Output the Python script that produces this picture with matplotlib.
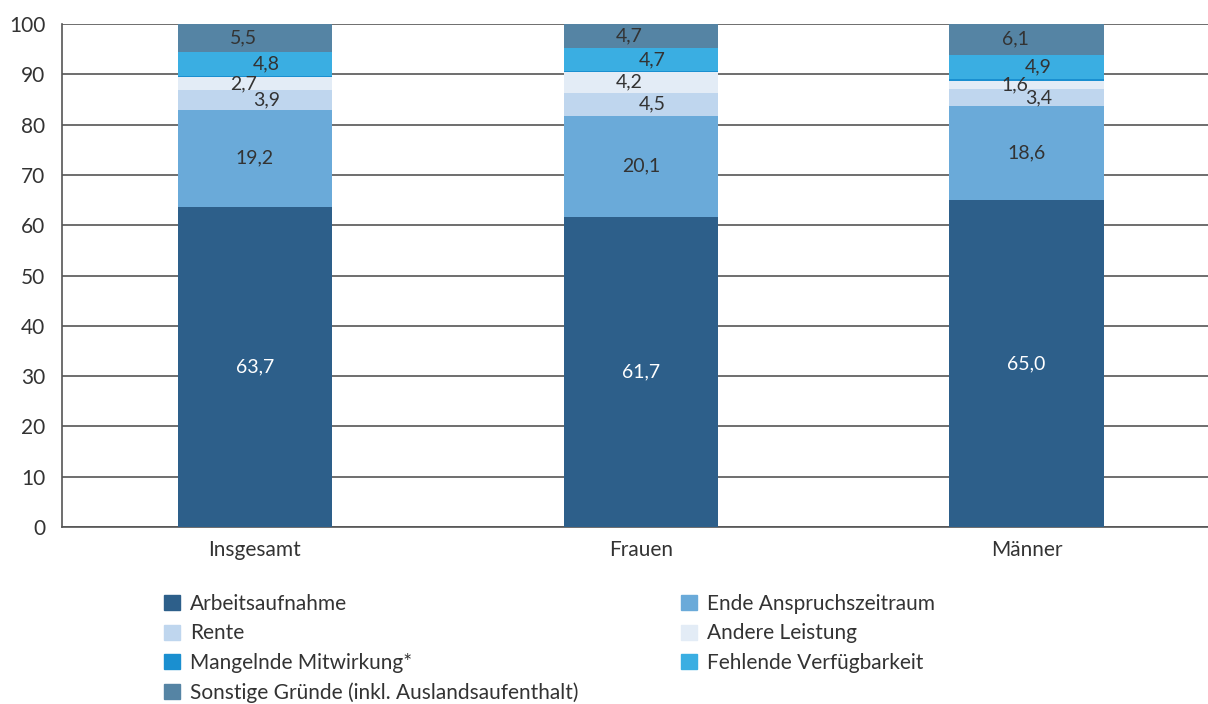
import numpy as np
import matplotlib.pyplot as plt
from matplotlib.patches import Patch

#==============================================================================#
#                               Data
#==============================================================================#
groups = ['Insgesamt', 'Frauen', 'Männer']
arbeit = [63.7, 61.7, 65.0]
ende = [19.2, 20.1, 18.6]
rente = [3.9, 4.5, 3.4]
andere = [2.7, 4.2, 1.6]
mangelnd = [0.2, 0.1, 0.4]
fehlend = [4.8, 4.7, 4.9]
sonstige = [5.5, 4.7, 6.1]

names = ['Arbeitsaufnahme', 'Ende Anspruchszeitraum', 'Rente', 'Andere Leistung',
         'Mangelnde Mitwirkung*', 'Fehlende Verfügbarkeit',
         'Sonstige Gründe (inkl. Auslandsaufenthalt)']
series = [arbeit, ende, rente, andere, mangelnd, fehlend, sonstige]
colors = ['#2d5f8a', '#6aaad9', '#bfd6ee', '#e3ecf6', '#1a8fd0', '#3aaee2', '#5584a4']
# label offsets (x) for small segments, None = no label
label_dx = [0, 0, 0.03, -0.03, None, 0.03, -0.03]
label_col = ['white', '#333333', '#333333', '#333333', None, '#333333', '#333333']

plt.rcParams['font.family'] = ['Lato', 'DejaVu Sans']
txt = '#333333'

#==============================================================================#
#                               Plot
#==============================================================================#
fig = plt.figure(figsize=(12.08, 7.04), dpi=100)
ax = fig.add_axes([0.0513, 0.2514, 0.9487, 0.7145])

x = np.arange(len(groups))
bottom = np.zeros(len(groups))
for vals, c, dx, lc in zip(series, colors, label_dx, label_col):
    vals = np.array(vals)
    ax.bar(x, vals, width=0.4, bottom=bottom, color=c, zorder=3)
    if dx is not None:
        for xi, v, b in zip(x, vals, bottom):
            ax.text(xi + dx, b + v / 2, ('%.1f' % v).replace('.', ','),
                    ha='center', va='center', fontsize=14, color=lc, zorder=4)
    bottom += vals

ax.set_xlim(-0.5, 2.47)
ax.set_ylim(0, 100)
ax.set_yticks(range(0, 101, 10))
ax.yaxis.grid(True, color='#555555', linewidth=1.2, zorder=0)
ax.set_xticks(x)
ax.set_xticklabels(groups)
ax.tick_params(axis='both', length=0, labelsize=15, labelcolor=txt)
ax.tick_params(axis='y', pad=12)
ax.tick_params(axis='x', pad=9)
for s in ['top', 'right']:
    ax.spines[s].set_visible(False)
ax.spines['left'].set_color('#555555')
ax.spines['bottom'].set_color('#555555')
ax.spines['left'].set_linewidth(1.2)
ax.spines['bottom'].set_linewidth(1.2)

# legend filled row-wise like the original (matplotlib fills columns)
order = [0, 2, 4, 6, 1, 3, 5]
handles = [Patch(color=colors[i], label=names[i]) for i in order]
fig.legend(handles=handles, loc='upper left', bbox_to_anchor=(0.129, 0.168),
           ncol=2, frameon=False, fontsize=15, labelcolor=txt,
           handlelength=0.75, handleheight=0.75, handletextpad=0.5,
           columnspacing=4.93, labelspacing=0.45, borderaxespad=0)

plt.savefig('out.png')
